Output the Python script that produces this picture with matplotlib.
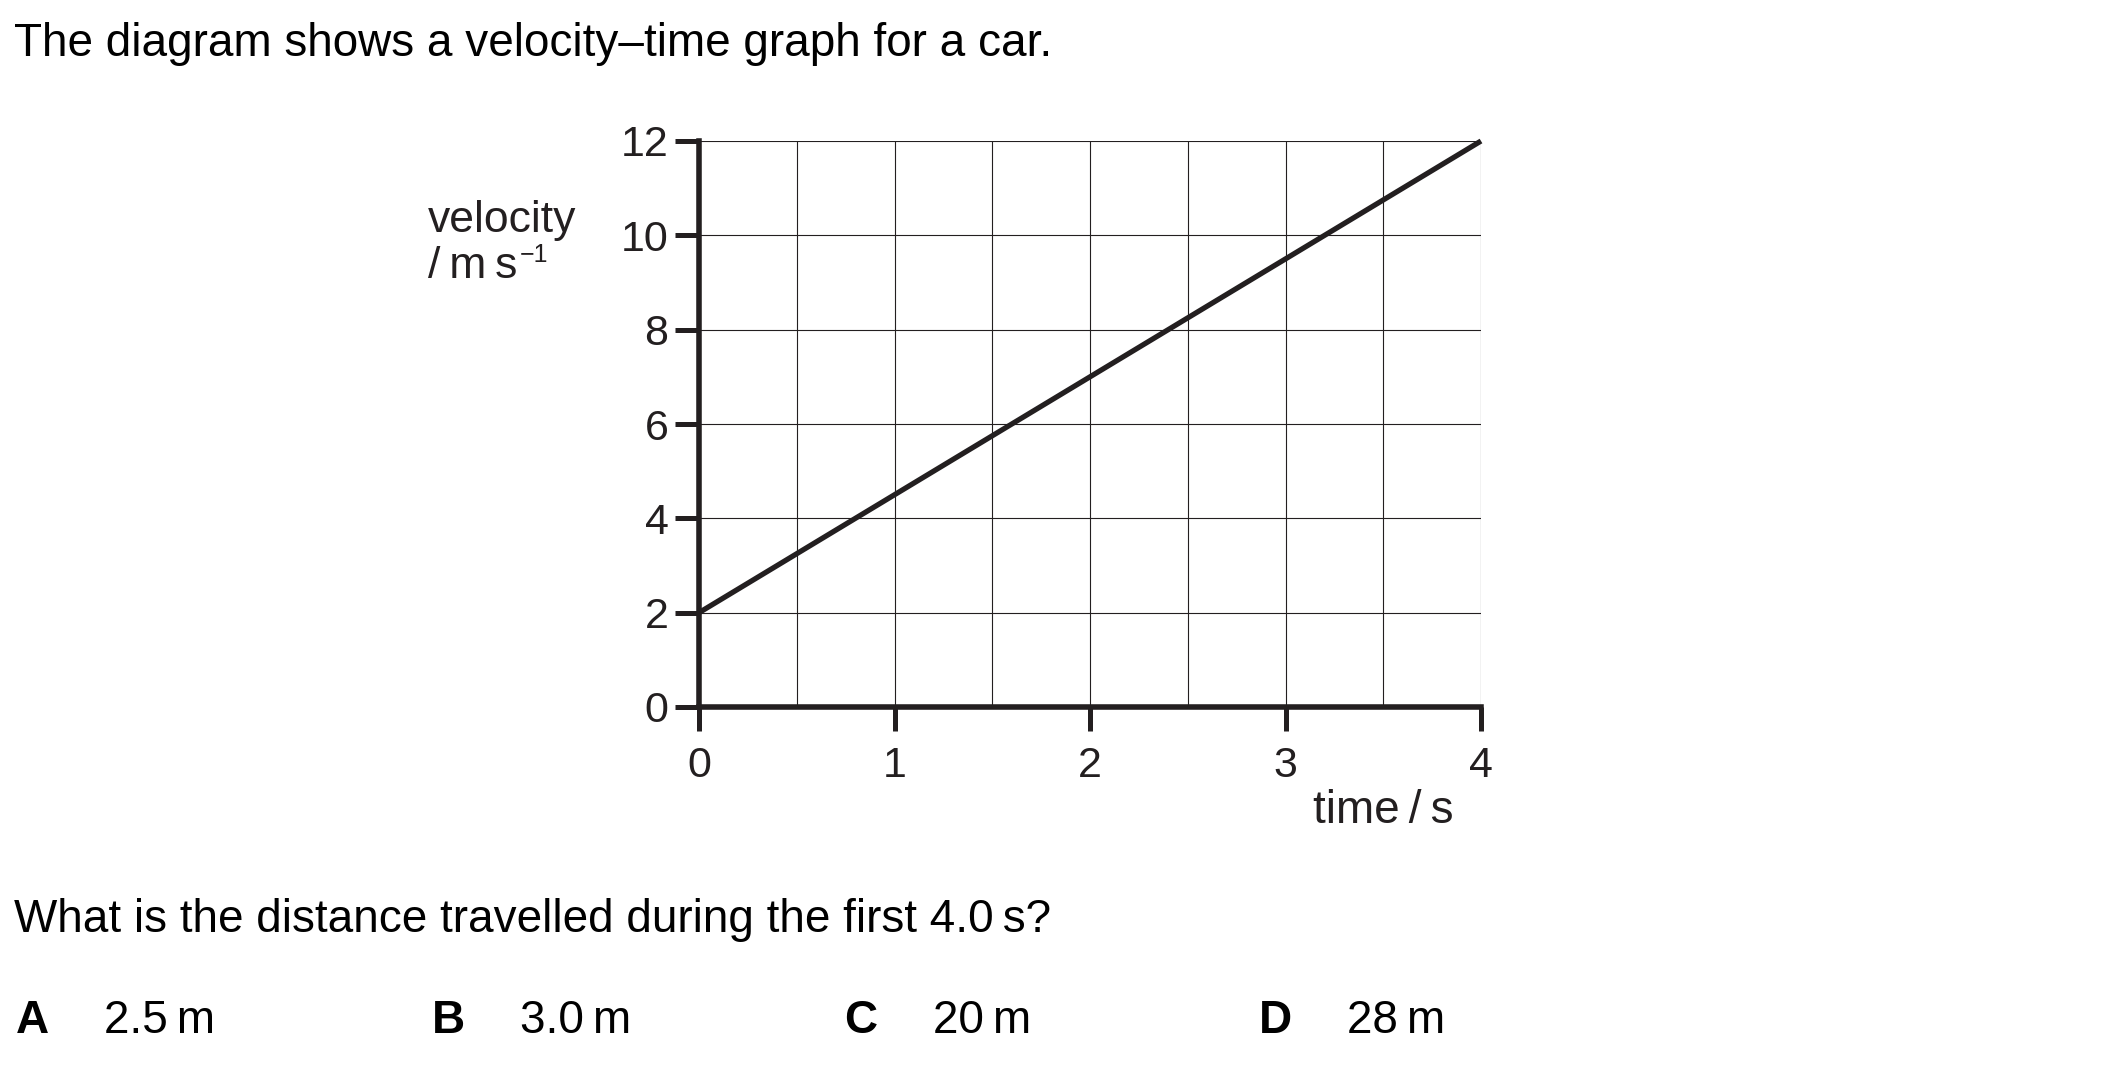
#!/usr/bin/env python3

import numpy as np
import matplotlib
matplotlib.use('Agg')
import matplotlib.pyplot as plt

# Data
time = [0, 4]
velocity = [2, 12]
x_ticks = [0, 1, 2, 3, 4]
y_ticks = [0, 2, 4, 6, 8, 10, 12]
x_grid = [0.5, 1, 1.5, 2, 2.5, 3, 3.5, 4]
y_grid = [2, 4, 6, 8, 10, 12]

title = 'The diagram shows a velocity\u2013time graph for a car.'
question = 'What is the distance travelled during the first 4.0\u2009s?'
option_letters = ['A', 'B', 'C', 'D']
option_values = ['2.5\u2009m', '3.0\u2009m', '20\u2009m', '28\u2009m']

W, H = 2101, 1075
ink = '#231f20'
plt.rcParams['font.family'] = ['Liberation Sans', 'DejaVu Sans']


def fx(px):
    return px / W


def fy(py):
    return 1 - py / H


fig = plt.figure(figsize=(W / 100, H / 100), dpi=100, facecolor='white')

# axes box in pixel terms: left 699, right 1481, top 141, bottom 707
ax = fig.add_axes([fx(699), fy(707), (1481 - 699) / W, (707 - 141) / H])
ax.set_xlim(0, 4)
ax.set_ylim(0, 12)

# grid
for g in x_grid:
    ax.axvline(g, color=ink, lw=0.8, zorder=1)
for g in y_grid:
    ax.axhline(g, color=ink, lw=0.8, zorder=1)

ax.plot(time, velocity, color=ink, lw=3.8, solid_capstyle='butt', clip_on=False, zorder=3)

for s in ['top', 'right']:
    ax.spines[s].set_visible(False)
for s in ['left', 'bottom']:
    ax.spines[s].set_linewidth(4)
    ax.spines[s].set_color(ink)
    ax.spines[s].set_zorder(4)

ax.set_xticks(x_ticks)
ax.set_yticks(y_ticks)
ax.tick_params(axis='both', direction='out', length=17, width=3.6, color=ink,
               labelsize=31, labelcolor=ink)
ax.tick_params(axis='x', pad=11)
ax.tick_params(axis='y', pad=5)

# axis labels
fig.text(fx(428), fy(232), 'velocity', fontsize=32, color=ink, va='baseline', ha='left')
unit = fig.text(fx(428), fy(278), '/\u2009m\u2009s', fontsize=32, color=ink, va='baseline', ha='left')
fig.canvas.draw()
unit_end = unit.get_window_extent().x1
fig.text((unit_end + 2) / W, fy(262), '\u22121', fontsize=18, color=ink, va='baseline', ha='left')
fig.text(fx(1383), fy(823), 'time\u2009/\u2009s', fontsize=33, color=ink, va='baseline', ha='center')

# question text
fig.text(fx(14), fy(56), title, fontsize=33, color='black', va='baseline', ha='left')
fig.text(fx(14), fy(932), question, fontsize=33, color='black', va='baseline', ha='left')

letter_x = [16, 432, 844, 1259]
value_x = [104, 520, 933, 1347]
for i in range(4):
    fig.text(fx(letter_x[i]), fy(1033), option_letters[i], fontsize=33, fontweight='bold',
             color='black', va='baseline', ha='left')
    fig.text(fx(value_x[i]), fy(1033), option_values[i], fontsize=33,
             color='black', va='baseline', ha='left')

plt.savefig('out.png', dpi=100, facecolor='white')
